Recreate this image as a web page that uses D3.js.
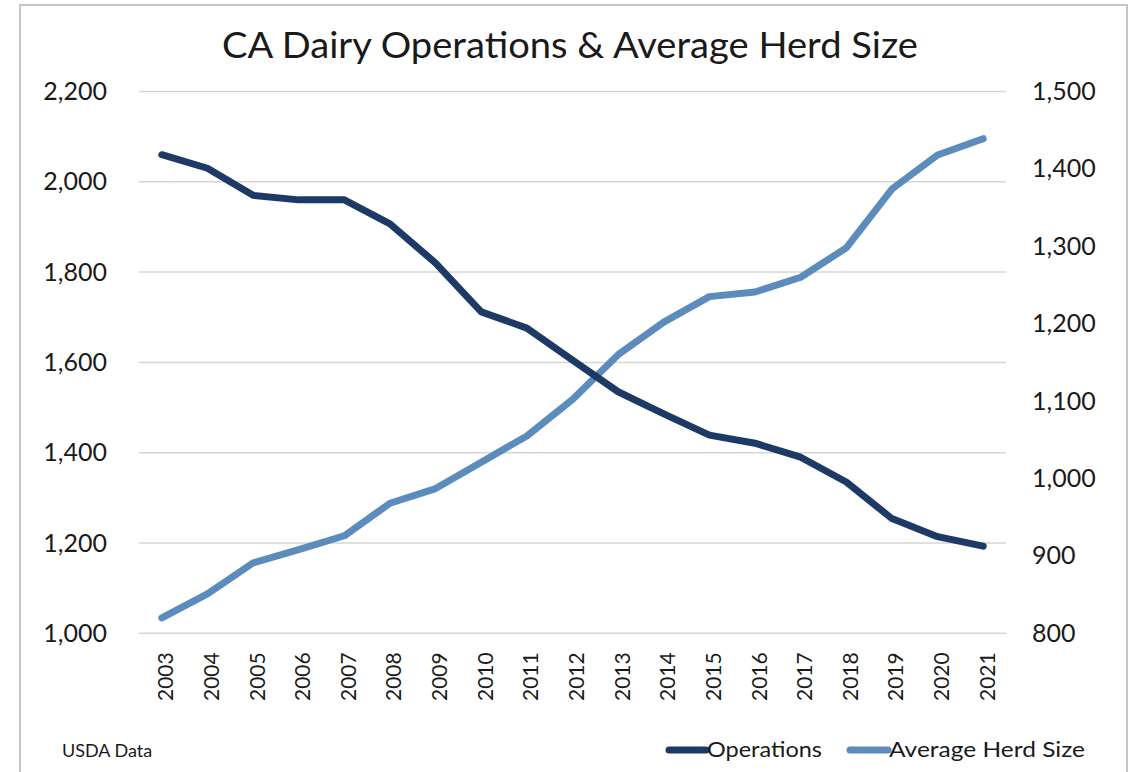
<!DOCTYPE html>
<html><head><meta charset="utf-8">
<script src="https://cdn.jsdelivr.net/npm/d3@7/dist/d3.min.js"></script>
<style>body{margin:0;background:#fff}svg{display:block}</style>
</head><body>
<svg id="c" width="1140" height="772"></svg>
<script>
const years = ["2003","2004","2005","2006","2007","2008","2009","2010","2011","2012","2013","2014","2015","2016","2017","2018","2019","2020","2021"];
const operations = [2060,2030,1970,1960,1960,1907,1820,1712,1676,1605,1535,1486,1439,1421,1390,1335,1254,1214,1193];
const herdSize = [820,851,891,908,926,968,987,1021,1055,1102,1160,1202,1235,1241,1260,1298,1374,1418,1439];
const leftTicks = [1000,1200,1400,1600,1800,2000,2200];
const rightTicks = [800,900,1000,1100,1200,1300,1400,1500];
const title = "CA Dairy Operations & Average Herd Size";
const seriesNames = ["Operations","Average Herd Size"];
const source = "USDA Data";

const svg = d3.select("#c");
const font = "Lato, 'Open Sans', sans-serif";
const darkC = "#1d3a66", lightC = "#5b8cbc";
const plot = {l:139, r:1006, t:91.5, b:633.3};

// border
svg.append("rect").attr("x",20).attr("y",5).attr("width",1107).attr("height",820)
  .attr("fill","none").attr("stroke","#c6c6c6").attr("stroke-width",2);

const x = d3.scaleBand().domain(years).range([plot.l, plot.r]);
const yL = d3.scaleLinear().domain([1000,2200]).range([plot.b, plot.t]);
const yR = d3.scaleLinear().domain([800,1500]).range([plot.b, plot.t]);

// gridlines
svg.append("g").selectAll("line").data(leftTicks).join("line")
  .attr("x1",plot.l).attr("x2",plot.r)
  .attr("y1",d=>yL(d)).attr("y2",d=>yL(d))
  .attr("stroke","#d6d6d6").attr("stroke-width",1.5);

// left axis
const axL = svg.append("g").attr("transform",`translate(${plot.l},0)`)
  .call(d3.axisLeft(yL).tickValues(leftTicks).tickFormat(d3.format(",")).tickSize(0).tickPadding(32));
axL.select(".domain").remove();
axL.selectAll("text").attr("font-family",font).attr("font-size",25).attr("fill","#1a1a1a");

// right axis
const axR = svg.append("g").attr("transform",`translate(${plot.r},0)`)
  .call(d3.axisRight(yR).tickValues(rightTicks).tickFormat(d3.format(",")).tickSize(0).tickPadding(26));
axR.select(".domain").remove();
axR.selectAll("text").attr("font-family",font).attr("font-size",25).attr("fill","#1a1a1a");

// x axis
const axX = svg.append("g").attr("transform",`translate(0,${plot.b})`)
  .call(d3.axisBottom(x).tickSize(0));
axX.select(".domain").remove();
axX.selectAll("text").attr("font-family",font).attr("font-size",21).attr("fill","#1a1a1a")
  .attr("text-anchor","end").attr("dy",0).attr("dominant-baseline","central")
  .attr("transform","translate(0,19) rotate(-90)");

// lines
const cx = d => x(d) + x.bandwidth()/2;
const lineL = d3.line().x((d,i)=>cx(years[i])).y(d=>yL(d));
const lineR = d3.line().x((d,i)=>cx(years[i])).y(d=>yR(d));
svg.append("path").attr("d",lineR(herdSize)).attr("fill","none").attr("stroke",lightC)
  .attr("stroke-width",7).attr("stroke-linejoin","round").attr("stroke-linecap","round");
svg.append("path").attr("d",lineL(operations)).attr("fill","none").attr("stroke",darkC)
  .attr("stroke-width",7).attr("stroke-linejoin","round").attr("stroke-linecap","round");

// title
svg.append("text").attr("x",570).attr("y",58).attr("text-anchor","middle")
  .attr("font-family",font).attr("font-size",37).attr("fill","#1a1a1a")
  .attr("textLength",696).attr("lengthAdjust","spacingAndGlyphs").text(title);

// source
svg.append("text").attr("x",62).attr("y",757).attr("font-family",font).attr("font-size",18)
  .attr("fill","#1a1a1a").text(source);

// legend
const leg = [
  {name:seriesNames[0], color:darkC, x1:669, x2:706, tx:707, tw:115},
  {name:seriesNames[1], color:lightC, x1:850, x2:888, tx:889, tw:196}
];
leg.forEach(l=>{
  svg.append("line").attr("x1",l.x1).attr("x2",l.x2).attr("y1",750).attr("y2",750)
    .attr("stroke",l.color).attr("stroke-width",7).attr("stroke-linecap","round");
  svg.append("text").attr("x",l.tx).attr("y",757).attr("font-family",font).attr("font-size",21)
    .attr("fill","#1a1a1a").attr("textLength",l.tw).attr("lengthAdjust","spacingAndGlyphs").text(l.name);
});
</script>
</body></html>
